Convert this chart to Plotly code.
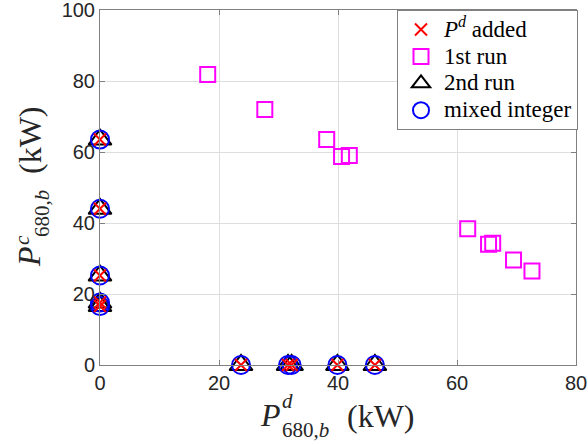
import plotly.graph_objects as go

# ---- data -------------------------------------------------------------
# first run: discharge / charge power pairs (kW)
run1_pd = [18.1, 27.7, 38.1, 40.6, 41.9, 61.8, 65.3, 66.0, 69.5, 72.6]
run1_pc = [81.8, 72.0, 63.5, 58.7, 59.0, 38.4, 34.0, 34.3, 29.6, 26.5]

# second run / mixed-integer solution / P^d added (same operating points)
final_pd = [0.0, 0.0, 0.0, 0.0, 0.0, 23.7, 31.6, 32.2, 39.9, 46.2]
final_pc = [63.5, 44.0, 25.2, 17.6, 16.6, 0.0, 0.0, 0.0, 0.0, 0.0]

x_ticks = [0, 20, 40, 60, 80]
y_ticks = [0, 20, 40, 60, 80, 100]

# ---- layout geometry ---------------------------------------------------
W, H = 588, 445
ML, MR, MT, MB = 100, 12, 10, 80
PW, PH = W - ML - MR, H - MT - MB


def px(xp):
    return (xp - ML) / PW


def py(yp):
    return (H - MB - yp) / PH


AX_GRAY = "#808080"
TXT = "#262626"
SERIF = "Liberation Serif"


def big(s):
    return f'<span style="font-size:23px">{s}</span>'


fig = go.Figure()

fig.add_trace(go.Scatter(
    x=run1_pd, y=run1_pc, mode="markers", name=big("1st run"), legendrank=2,
    marker=dict(symbol="square-open", size=15, color="#ff00ff",
                line=dict(width=2, color="#ff00ff")),
    cliponaxis=False))

fig.add_trace(go.Scatter(
    x=final_pd, y=final_pc, mode="markers", name=big("2nd run"), legendrank=3,
    marker=dict(symbol="triangle-up-open", size=20, color="black",
                line=dict(width=2, color="black")),
    cliponaxis=False))

fig.add_trace(go.Scatter(
    x=final_pd, y=final_pc, mode="markers", name=big("mixed integer"),
    legendrank=4,
    marker=dict(symbol="circle-open", size=18, color="#0000ff",
                line=dict(width=2, color="#0000ff")),
    cliponaxis=False))

fig.add_trace(go.Scatter(
    x=final_pd, y=final_pc, mode="markers",
    name=big("<i>P</i><sup><i>d</i></sup> added"), legendrank=1,
    marker=dict(symbol="x-thin-open", size=12, color="#ff0000",
                line=dict(width=2, color="#ff0000")),
    cliponaxis=False))

axis_common = dict(
    showline=True, linecolor=AX_GRAY, linewidth=1, mirror="ticks",
    ticks="inside", ticklen=5, tickcolor=AX_GRAY,
    showgrid=True, gridcolor="#dedede", gridwidth=1, zeroline=False,
    automargin=False, ticklabeloverflow="allow",
    tickfont=dict(family="Liberation Sans", size=20, color=TXT),
)

fig.update_xaxes(range=[0, 80], tickvals=x_ticks, **axis_common)
fig.update_yaxes(range=[0, 100], tickvals=y_ticks, **axis_common)

# axis titles assembled from pieces so super/subscripts stack
ann = []


def piece(text, xp, yp, size, angle=0):
    ann.append(dict(text=text, x=px(xp), y=py(yp), xref="paper", yref="paper",
                    xanchor="center", yanchor="middle", showarrow=False,
                    textangle=angle,
                    font=dict(family=SERIF, size=size, color=TXT)))


# x title: P^d_{680,b} (kW)
piece("<i>P</i>", 270, 415, 32)
piece("<i>d</i>", 287, 401, 21)
piece("680,<i>b</i>", 305, 430, 21)
piece("(kW)", 381, 416, 32)

# y title: P^c_{680,b} (kW)
piece("<i>P</i>", 29, 257, 32, -90)
piece("<i>c</i>", 22, 240, 21, -90)
piece("680,<i>b</i>", 42, 214, 21, -90)
piece("(kW)", 30, 140, 32, -90)

fig.update_layout(
    width=W, height=H,
    margin=dict(l=ML, r=MR, t=MT, b=MB),
    paper_bgcolor="white", plot_bgcolor="white",
    annotations=ann,
    legend=dict(x=px(397), y=1.0, xanchor="left", yanchor="top",
                bgcolor="white", bordercolor=AX_GRAY, borderwidth=1,
                font=dict(family=SERIF, size=18.4, color="black"),
                itemwidth=36, tracegroupgap=0),
)

fig.write_html("out.html")
